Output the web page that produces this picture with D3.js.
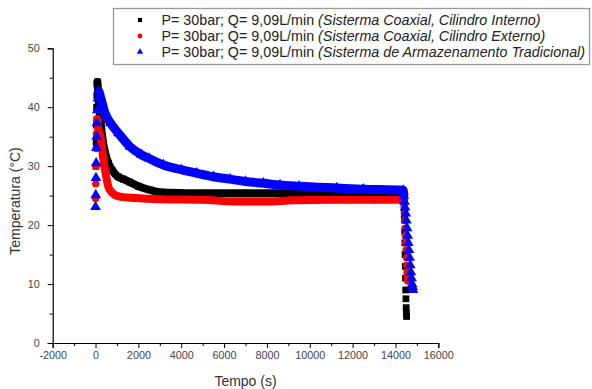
<!DOCTYPE html>
<html><head><meta charset="utf-8">
<script src="https://cdn.jsdelivr.net/npm/d3@7"></script>
<style>body{margin:0;background:#fff;}svg{display:block;font-family:"Liberation Sans",Arial,sans-serif;}</style>
</head><body>
<svg id="c" width="592" height="389"></svg>
<script>
// ---- data ----
const legendLabels = [
  ["P= 30bar; Q= 9,09L/min ", "(Sisterma Coaxial, Cilindro Interno)"],
  ["P= 30bar; Q= 9,09L/min ", "(Sisterma Coaxial, Cilindro Externo)"],
  ["P= 30bar; Q= 9,09L/min ", "(Sisterma de Armazenamento Tradicional)"]
];
const xTicks = [-2000,0,2000,4000,6000,8000,10000,12000,14000,16000];
const yTicks = [0,10,20,30,40,50];
const plateauEnd = 14400;

const internoT = [20,30,40,50,60,70,90,150,250,350,450,600,800,1050,1300,1600,2000,2500,3000,3500,5000,7000,9000,11000,13000,14380,14390,14400,14410,14420,14430,14440,14450,14460,14470,14480,14490,14500,14510,14520];
const internoV = [30,34,37,40,42,44,44.3,41,37,34,32.2,30.5,29.2,28.2,27.8,27.3,26.6,26,25.6,25.5,25.4,25.4,25.4,25.4,25.4,25.4,25,24,22.5,21,19,17,15,13,11,9,7.5,6,5,4.5];

const externoT = [0,10,20,30,40,50,70,120,200,280,350,440,520,600,750,910,1200,1850,3000,5000,6500,8000,9200,11000,13000,14390,14405,14420,14435,14450,14465,14480,14495,14510,14525,14540,14555,14570];
const externoV = [24.5,27,30,33,35.5,37.5,38,36.5,35.3,34,31.5,29.4,27.8,26.5,25.6,25.1,24.8,24.6,24.4,24.3,24.0,24.0,24.2,24.3,24.3,24.3,23.2,22,20.8,19.5,18.2,17,15.8,14.5,13.2,12,11.2,10.5];

const tradT = [0,10,20,30,40,50,60,80,110,160,250,444,700,1066,1610,2157,2500,3165,4000,4725,5500,6280,7000,7835,8613,9500,11260,12500,14360,14390,14420,14450,14480,14510,14540,14570,14600,14630,14660,14690,14720,14750,14780,14800,14820];
const tradV = [23.1,25.1,28,30.5,33.1,35,37.3,39.5,41.5,42.7,41.5,39,37.3,35.6,33.3,31.9,31.3,30.2,29.4,28.8,28.2,27.8,27.4,27.1,26.8,26.6,26.3,26.1,25.9,25,24,23,22,20.8,19.5,18.2,17,15.8,14.5,13.2,12,11,10,9.5,9];

// ---- layout ----
const svg = d3.select("#c");
const x = d3.scaleLinear().domain([-2000,16000]).range([52.7,438.3]);
const y = d3.scaleLinear().domain([0,50]).range([343,48.3]);

const series = [
  {t:internoT, v:internoV, color:"#000", shape:d3.symbolSquare, size:46, w:8},
  {t:externoT, v:externoV, color:"#f00", shape:d3.symbolCircle, size:42, w:8},
  {t:tradT, v:tradV, color:"#00f", shape:d3.symbolTriangle, size:50, w:9}
];

const g = svg.append("g");
series.forEach(s => {
  const pts = s.t.map((t,i)=>[t,s.v[i]]);
  let peak = d3.maxIndex(s.v);
  const band = pts.filter((p,i)=> i>=peak && p[0]<=plateauEnd);
  g.append("path").datum(band)
    .attr("d", d3.line().x(d=>x(d[0])).y(d=>y(d[1])).curve(d3.curveMonotoneX))
    .attr("fill","none").attr("stroke",s.color).attr("stroke-width",s.w).attr("stroke-linejoin","round").attr("stroke-linecap","round");
  g.selectAll(null).data(pts).enter().append("path")
    .attr("transform",d=>`translate(${x(d[0])},${y(d[1])})`)
    .attr("d", d3.symbol().type(s.shape).size(s.size)())
    .attr("fill",s.color);
});

// axes
const fmt = d => String(d);
svg.append("g").attr("transform","translate(0,343)")
  .call(d3.axisBottom(x).tickValues(xTicks).tickSize(5).tickPadding(3).tickFormat(fmt));
svg.append("g").attr("transform","translate(0,343)")
  .call(d3.axisBottom(x).tickValues(d3.range(-1000,16000,2000)).tickSize(3).tickFormat(""))
  .select(".domain").remove();
svg.append("g").attr("transform","translate(52.7,0)")
  .call(d3.axisLeft(y).tickValues(yTicks).tickSize(5).tickPadding(8).tickFormat(fmt));
svg.append("g").attr("transform","translate(52.7,0)")
  .call(d3.axisLeft(y).tickValues(d3.range(5,50,10)).tickSize(3).tickFormat(""))
  .select(".domain").remove();
svg.selectAll(".domain").attr("stroke","#000").attr("stroke-width",1.2);
svg.selectAll(".tick line").attr("stroke","#000");
svg.selectAll(".tick text").attr("font-size","10.8px").attr("fill","#444").attr("font-family","Liberation Sans, Arial, sans-serif");

svg.append("text").attr("x",245.5).attr("y",386).attr("text-anchor","middle")
  .attr("font-size","14px").attr("fill","#333").text("Tempo (s)");
svg.append("text").attr("transform","translate(20,201) rotate(-90)").attr("text-anchor","middle")
  .attr("font-size","14px").attr("fill","#333").text("Temperatura (°C)");

// legend
svg.append("rect").attr("x",113.5).attr("y",8.5).attr("width",476).attr("height",56)
  .attr("fill","#fff").attr("stroke","#999").attr("stroke-width",1.3);
const ly = [20,36,52];
series.forEach((s,i)=>{
  svg.append("path").attr("transform",`translate(140,${ly[i]})`)
    .attr("d", d3.symbol().type(s.shape).size(18)()).attr("fill",s.color);
  const t = svg.append("text").attr("x",161.5).attr("y",ly[i]+5).attr("font-size","14.3px").attr("fill","#222");
  t.append("tspan").text(legendLabels[i][0]);
  t.append("tspan").attr("font-style","italic").text(legendLabels[i][1]);
});
</script>
</body></html>
